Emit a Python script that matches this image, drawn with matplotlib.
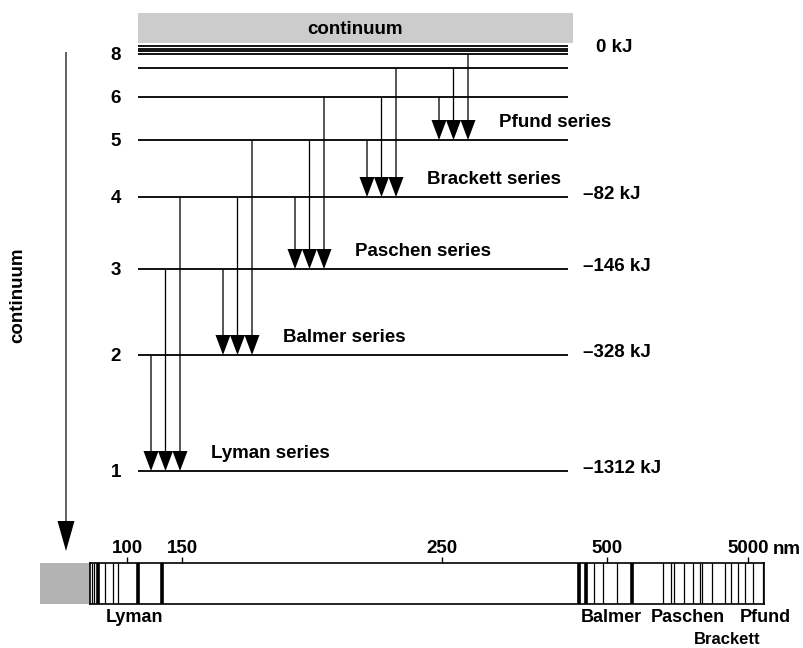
import numpy as np
import matplotlib
matplotlib.use("Agg")
import matplotlib.pyplot as plt
from matplotlib.patches import Rectangle, FancyArrow
from matplotlib.ticker import NullLocator

plt.rcParams['font.family'] = ['Liberation Sans', 'DejaVu Sans']
plt.rcParams['font.weight'] = 'bold'
FS = 13.5
DY = -1.5  # nudge for vertically centred text

# energy levels (schematic height above n=1 in the drawing)
level_n = [1, 2, 3, 4, 5, 6, 7, 8, 9, 10]
level_height = [0, 116, 202, 274, 331, 374, 403, 417, 420, 422]
limit_height = 425.5
level_labels = ["1", "2", "3", "4", "5", "6", "", "8", "", ""]
energy_n = [1, 2, 3, 4]
energy_text = ["\u20131312 kJ", "\u2013328 kJ", "\u2013146 kJ", "\u201382 kJ"]

series_names = ["Lyman", "Balmer", "Paschen", "Brackett", "Pfund"]
series_lower = [1, 2, 3, 4, 5]

# spectrum (schematic wavelength scale, nm)
tick_nm = [100, 150, 250, 500, 5000]
tick_labels = ["100", "150", "250", "500", "5000"]
scale_nm = [91.2, 100, 150, 250, 500, 5000, 6526]
scale_pos = [90, 127, 182, 442, 607, 748, 764.3]
lyman_lines = [91.72, 92.18, 92.96, 94.67, 96.57, 97.86, 108.2, 129.1]
lyman_strong = [92.96, 108.2, 129.1]
balmer_lines = [444.5, 457.8, 474.0, 491.1, 585.9, 748.4]
balmer_strong = [444.5, 457.8, 748.4]
paschen_lines = [1254, 1415, 1493, 1758, 2027]
brackett_lines = [2283, 2348, 2791, 3434]
pfund_lines = [3788, 4268, 4761, 5399, 6356]

fig = plt.figure(figsize=(8.04, 6.48), dpi=100)
ax = fig.add_axes([0, 0, 1, 1])
ax.set_xlim(0, 804)
ax.set_ylim(-177, 471)
ax.axis('off')

# continuum box on top
ax.add_patch(Rectangle((138, 428), 435, 30, facecolor='#cccccc', edgecolor='none'))
ax.text(355, 443 + DY, "continuum", ha='center', va='center', fontsize=FS)

# level lines
ax.hlines(level_height + [limit_height], 138, 568, color='black', lw=1.3)
for h, lab in zip(level_height, level_labels):
    if lab:
        ax.text(116, h + DY, lab, ha='center', va='center', fontsize=FS)
for n, t in zip(energy_n, energy_text):
    ax.text(583, level_height[n - 1] + 4 + DY, t, ha='left', va='center', fontsize=FS)
ax.text(596, limit_height + DY, "0 kJ", ha='left', va='center', fontsize=FS)

# transitions
for k, (name, low) in enumerate(zip(series_names, series_lower)):
    h_low = level_height[low - 1]
    for j in range(3):
        h_up = level_height[low + j]
        x = 151 + 72 * k + 14.5 * j
        ax.add_patch(FancyArrow(x, h_up, 0, h_low - h_up, width=1.3, head_width=15,
                                head_length=20, length_includes_head=True,
                                color='black', lw=0))
    ax.text(211 + 72 * k, h_low + 19 + DY, name + " series", ha='left', va='center',
            fontsize=FS)

# big arrow on the left
ax.add_patch(FancyArrow(66, 419, 0, -499, width=1.2, head_width=17, head_length=30,
                        length_includes_head=True, color='black', lw=0))
ax.text(18, 176, "continuum", rotation=90, ha='center', va='center', fontsize=FS)

# grey block left of spectrum
ax.add_patch(Rectangle((40, -133), 50, 41, facecolor='#b3b3b3', edgecolor='none'))
ax.text(773, -78.5, "nm", ha='left', va='center', fontsize=FS)
ax.text(135, -147, "Lyman", ha='center', va='center', fontsize=13)
ax.text(611, -147, "Balmer", ha='center', va='center', fontsize=13)
ax.text(688, -147, "Paschen", ha='center', va='center', fontsize=13)
ax.text(765, -147, "Pfund", ha='center', va='center', fontsize=13)
ax.text(727, -176.5, "Brackett", ha='center', va='bottom', fontsize=12)

# spectrum bar
log_nm = np.log(scale_nm)


def fwd(x):
    x = np.clip(np.asarray(x, dtype=float), 1e-3, None)
    return np.interp(np.log(x), log_nm, scale_pos)


def inv(p):
    return np.exp(np.interp(p, scale_pos, log_nm))


axs = fig.add_axes([90 / 804, 44 / 648, (764.3 - 90) / 804, 41 / 648])
axs.set_xscale('function', functions=(fwd, inv))
axs.set_xlim(scale_nm[0], scale_nm[-1])
axs.set_ylim(0, 1)
axs.set_yticks([])
allthin = lyman_lines + balmer_lines + paschen_lines + brackett_lines + pfund_lines
axs.vlines(allthin, 0, 1, color='black', lw=0.9)
axs.vlines(lyman_strong + balmer_strong, 0, 1, color='black', lw=2.6)
axs.set_xticks(tick_nm)
axs.set_xticklabels(tick_labels, fontsize=FS, fontweight='bold')
axs.xaxis.set_minor_locator(NullLocator())
axs.tick_params(axis='x', top=True, bottom=False, labeltop=True, labelbottom=False,
                direction='out', length=4.5, width=1, pad=0)
for sp in axs.spines.values():
    sp.set_linewidth(1.2)

fig.savefig("out.png", dpi=100)
